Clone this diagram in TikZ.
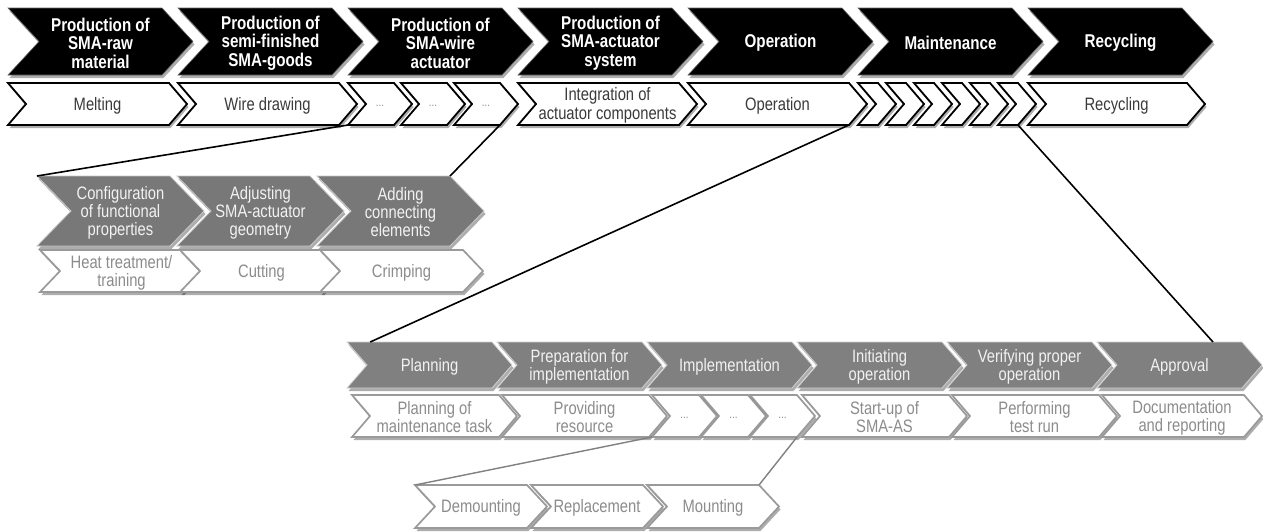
\documentclass[tikz,border=0pt]{standalone}
\usepackage{fontspec}
\setmainfont{Liberation Sans}
\newfontfamily\nar[FakeStretch=0.82]{Liberation Sans}
\usetikzlibrary{shadows,calc}
\definecolor{gthree}{HTML}{787878}
\definecolor{gfive}{HTML}{808080}
\definecolor{bordg}{HTML}{9A9A9A}
\definecolor{txtg}{HTML}{8C8C8C}
\definecolor{txtd}{HTML}{3A3A3A}
\newcommand\chev[9]{%
  \path[#7] (#2,#3) -- ++({#4-#6},0) -- ++(#6,{#5/2}) -- ++(-#6,{#5/2}) -- ++({#6-#4},0) -- ++(#6,{-#5/2}) -- cycle;
  \coordinate (#1-tl) at (#2,#3);
  \coordinate (#1-tr) at ({#2+#4-#6},#3);
  \coordinate (#1-bl) at (#2,{#3+#5});
  \coordinate (#1-br) at ({#2+#4-#6},{#3+#5});
  \node[#8] (#1) at ({#2+#4/2},{#3+#5/2+1.5}) {#9};
}
\tikzset{
  shd/.style={drop shadow={shadow xshift=1.5pt,shadow yshift=-3pt,opacity=0.32,fill=black}},
  rone/.style={shd,fill=black,draw=black!60,line width=0.6pt,line join=miter},
  rtwo/.style={shd,fill=white,draw=black,line width=1.8pt,line join=miter},
  rgray/.style={shd,fill=gthree,draw=black!22,line width=0.8pt,line join=miter},
  rgrayb/.style={shd,fill=gfive,draw=black!18,line width=0.8pt,line join=miter},
  rlight/.style={shd,fill=white,draw=bordg,line width=1.7pt,line join=miter},
  tone/.style={font={\nar\bfseries\fontsize{18.5}{18.5}\selectfont},text=white,align=center,inner sep=0pt},
  ttwo/.style={font={\nar\fontsize{18}{18.5}\selectfont},text=txtd,align=center,inner sep=0pt},
  tgray/.style={font={\nar\fontsize{18}{18}\selectfont},text=black!5,align=center,inner sep=0pt},
  tlight/.style={font={\nar\fontsize{18}{18}\selectfont},text=txtg,align=center,inner sep=0pt},
  tdots/.style={font={\nar\fontsize{12}{12}\selectfont},text=txtg,inner sep=0pt},
  conn/.style={draw=black,line width=1.6pt},
  conng/.style={draw=black!50,line width=1.4pt},
}
\begin{document}
\begin{tikzpicture}[x=1pt,y=-1pt]
\useasboundingbox (0,0) rectangle (1263,531);
\fill[white] (0,0) rectangle (1263,531);
% row 1
\chev{aa}{8}{8}{185}{67}{31}{rone}{tone}{Production of\\SMA-raw\\material}
\chev{ab}{178}{8}{185}{67}{31}{rone}{tone}{Production of\\semi-finished\\SMA-goods}
\chev{ac}{348}{8}{185}{67}{31}{rone}{tone}{Production of\\SMA-wire\\actuator}
\chev{ad}{518}{8}{185}{67}{31}{rone}{tone}{Production of\\SMA-actuator\\system}
\chev{ae}{688}{8}{185}{67}{31}{rone}{tone}{Operation}
\chev{af}{858}{8}{185}{67}{31}{rone}{tone}{Maintenance}
\chev{ag}{1028}{8}{185}{67}{31}{rone}{tone}{Recycling}
% row 2
\chev{ba}{8}{83}{179}{42}{18}{rtwo}{ttwo}{Melting}
\chev{bb}{178}{83}{179}{42}{18}{rtwo}{ttwo}{Wire drawing}
\chev{bd1}{348}{83}{64}{42}{18}{rtwo}{tdots}{...}
\chev{bd2}{401}{83}{64}{42}{18}{rtwo}{tdots}{...}
\chev{bd3}{454}{83}{64}{42}{18}{rtwo}{tdots}{...}
\chev{bc}{518}{83}{179}{42}{18}{rtwo}{ttwo}{Integration of\\actuator components}
\chev{be}{688}{83}{179}{42}{18}{rtwo}{ttwo}{Operation}
\chev{bm1}{858}{83}{38}{42}{18}{rtwo}{ttwo}{}
\chev{bm2}{886}{83}{38}{42}{18}{rtwo}{ttwo}{}
\chev{bm3}{914}{83}{38}{42}{18}{rtwo}{ttwo}{}
\chev{bm4}{942}{83}{38}{42}{18}{rtwo}{ttwo}{}
\chev{bm5}{970}{83}{38}{42}{18}{rtwo}{ttwo}{}
\chev{bm6}{998}{83}{38}{42}{18}{rtwo}{ttwo}{}
\chev{bg}{1028}{83}{177}{42}{18}{rtwo}{ttwo}{Recycling}
% row 3
\chev{ca}{37}{176}{167}{70}{34}{rgray}{tgray}{Configuration\\of functional\\properties}
\chev{cb}{177}{176}{167}{70}{34}{rgray}{tgray}{Adjusting\\SMA-actuator\\geometry}
\chev{cc}{317}{176}{167}{70}{34}{rgray}{tgray}{Adding\\connecting\\elements}
% row 4
\chev{da}{40}{250}{163}{42}{20}{rlight}{tlight}{Heat treatment/\\training}
\chev{db}{180}{250}{163}{42}{20}{rlight}{tlight}{Cutting}
\chev{dc}{320}{250}{163}{42}{20}{rlight}{tlight}{Crimping}
% row 5
\chev{ea}{347}{342}{165}{46}{20}{rgrayb}{tgray}{Planning}
\chev{eb}{497}{342}{165}{46}{20}{rgrayb}{tgray}{Preparation for\\implementation}
\chev{ec}{647}{342}{165}{46}{20}{rgrayb}{tgray}{Implementation}
\chev{ed}{797}{342}{165}{46}{20}{rgrayb}{tgray}{Initiating\\operation}
\chev{ee}{947}{342}{165}{46}{20}{rgrayb}{tgray}{Verifying proper\\operation}
\chev{ef}{1097}{342}{165}{46}{20}{rgrayb}{tgray}{Approval}
% row 6
\chev{fa}{352}{395}{165}{42}{18}{rlight}{tlight}{Planning of\\maintenance task}
\chev{fb}{502}{395}{165}{42}{18}{rlight}{tlight}{Providing\\resource}
\chev{fd1}{652}{395}{65}{42}{18}{rlight}{tdots}{...}
\chev{fd2}{701}{395}{65}{42}{18}{rlight}{tdots}{...}
\chev{fd3}{750}{395}{65}{42}{18}{rlight}{tdots}{...}
\chev{fc}{802}{395}{165}{42}{18}{rlight}{tlight}{Start-up of\\SMA-AS}
\chev{fe}{952}{395}{165}{42}{18}{rlight}{tlight}{Performing\\test run}
\chev{ff}{1102}{395}{160}{42}{18}{rlight}{tlight}{Documentation\\and reporting}
% row 7
\chev{ga}{415}{485}{132}{43}{20}{rlight}{tlight}{Demounting}
\chev{gb}{531}{485}{132}{43}{20}{rlight}{tlight}{Replacement}
\chev{gc}{647}{485}{132}{43}{20}{rlight}{tlight}{Mounting}
% connectors
\coordinate (eatop) at ($(ea-tl)!0.16!(ea-tr)$);
\coordinate (eftop) at ($(ef-tl)!0.8!(ef-tr)$);
\draw[conn] (bd1-bl) -- (ca-tl);
\draw[conn] (bd3-br) -- (cc-tr);
\draw[conn] (be-br) -- (eatop);
\draw[conn] (bm6-br) -- (eftop);
\draw[conng] (fd1-bl) -- (ga-tl);
\draw[conng] (fd3-br) -- (gc-tr);
\end{tikzpicture}
\end{document}
